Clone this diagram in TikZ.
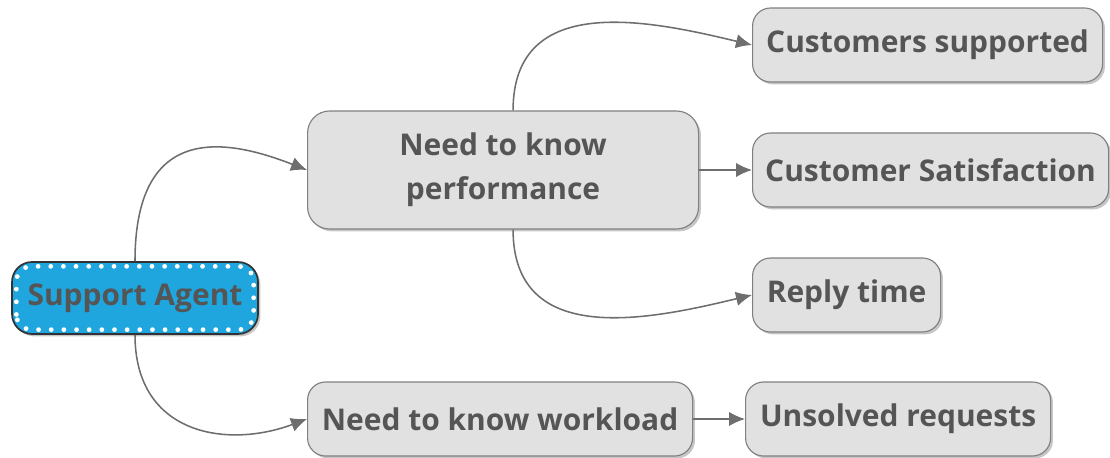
\documentclass[tikz,border=0pt]{standalone}
\usepackage{fontspec}
\setmainfont{Open Sans}
\usetikzlibrary{arrows.meta,shadows}
\definecolor{boxfill}{HTML}{E1E1E1}
\definecolor{boxline}{HTML}{808080}
\definecolor{boxtext}{HTML}{555555}
\definecolor{agentblue}{HTML}{1FA6DE}
\definecolor{linkgray}{HTML}{6E6E6E}

\begin{document}
\begin{tikzpicture}[
  topic/.style={draw=boxline, fill=boxfill, rounded corners=0.45cm, line width=0.8pt,
    text=boxtext, font=\fontsize{21.3}{31}\selectfont\bfseries, align=center,
    minimum height=1.85cm, inner sep=0pt,
    drop shadow={shadow xshift=0.06cm, shadow yshift=-0.06cm, opacity=0.45}},
  link/.style={draw=linkgray, line width=1.1pt, -{Latex[length=0.4cm,width=0.36cm]}}
]
\useasboundingbox (0,0) rectangle (27.75,11.425);

% Central topic
\node[topic, fill=agentblue, draw=black!80, line width=1.2pt, rounded corners=0.5cm,
  minimum width=6.15cm, minimum height=1.8cm] (agent) at (3.375,3.975) {Support Agent};
\draw[white, line width=3.4pt, line cap=round, dash pattern=on 0pt off 9pt, rounded corners=0.38cm]
  ([shift={(0.13,0.13)}]agent.south west) rectangle ([shift={(-0.13,-0.13)}]agent.north east);

% Main branches
\node[topic, anchor=west, minimum width=9.775cm, minimum height=2.95cm, rounded corners=0.55cm]
  (perf) at (7.675,7.175) {Need to know\\performance};
\node[topic, anchor=west, minimum width=9.625cm] (work) at (7.675,0.95) {Need to know workload};

% Sub topics
\node[topic, anchor=west, minimum width=8.75cm] (cust) at (18.8,10.3) {Customers supported};
\node[topic, anchor=west, minimum width=8.9cm] (sat) at (18.8,7.175) {Customer Satisfaction};
\node[topic, anchor=west, minimum width=4.7cm] (reply) at (18.8,4.05) {Reply time};
\node[topic, anchor=west, minimum width=7.625cm] (unsolved) at (18.625,0.95) {Unsolved requests};

% Connectors
\draw[link] (agent.north) .. controls +(0,3.55) and +(-1.925,0.75) .. (perf.west);
\draw[link] (agent.south) .. controls +(0,-2.5) and +(-2.0,-0.75) .. (work.west);
\draw[link] ([xshift=0.25cm]perf.north) .. controls +(0,3.0) and +(-2.5,0.6) .. (cust.west);
\draw[link] ([xshift=0.25cm]perf.south) .. controls +(0,-3.0) and +(-2.5,-0.6) .. (reply.west);
\draw[link] (perf.east) -- (sat.west);
\draw[link] (work.east) -- (unsolved.west);
\end{tikzpicture}
\end{document}
